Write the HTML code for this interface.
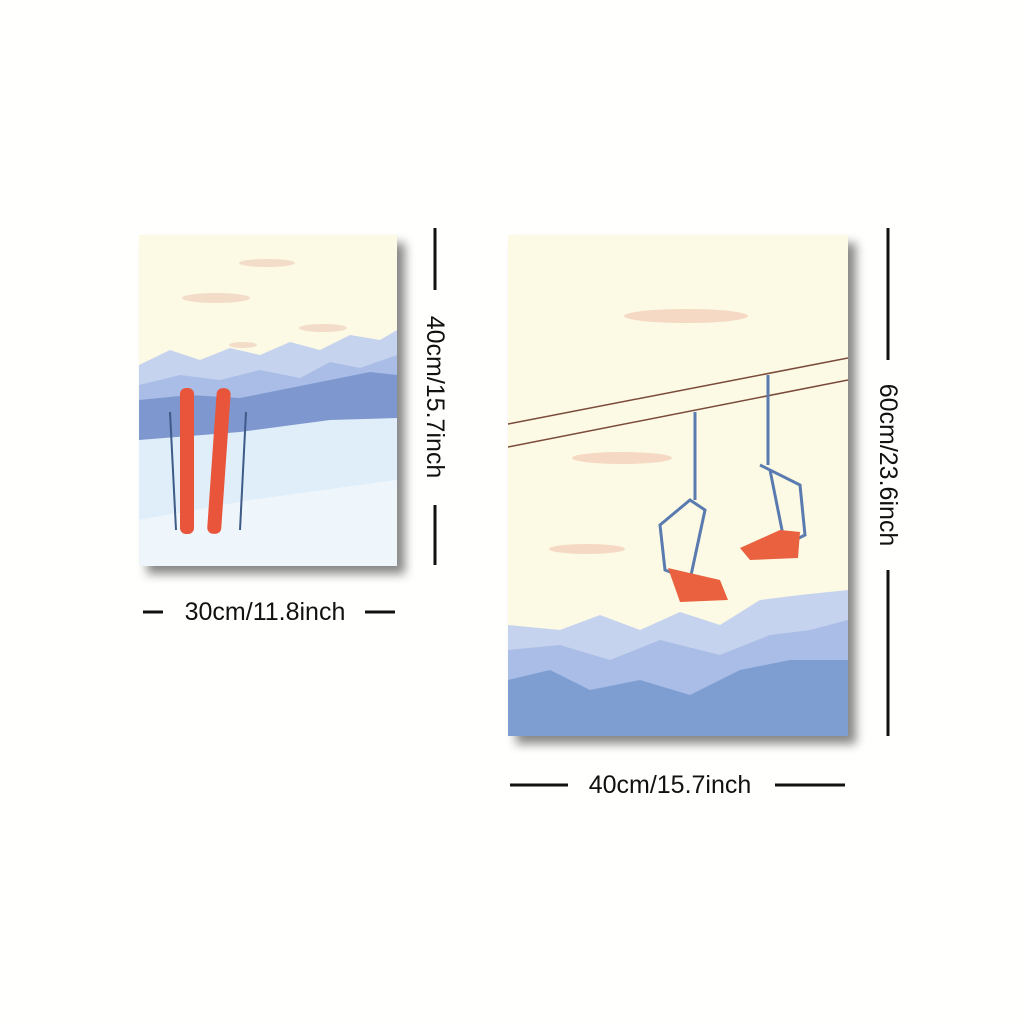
<!DOCTYPE html>
<html><head><meta charset="utf-8"><style>
html,body{margin:0;padding:0;background:#fffffd;}
svg{display:block;}
text{font-family:"Liberation Sans",sans-serif;font-size:25px;fill:#111;}
</style></head><body>
<svg width="1024" height="1024" viewBox="0 0 1024 1024">
<defs>
<filter id="sh" x="-10%" y="-10%" width="130%" height="130%"><feGaussianBlur stdDeviation="5"/></filter>
<clipPath id="c1"><rect x="139" y="235" width="258" height="331"/></clipPath>
<clipPath id="c2"><rect x="508" y="235" width="340" height="501"/></clipPath>
</defs>
<rect width="1024" height="1024" fill="#fffffd"/>
<g>
<rect x="147" y="243" width="258" height="331" fill="#555" filter="url(#sh)" opacity="0.7"/>
<g clip-path="url(#c1)">
<rect x="139" y="235" width="258" height="331" fill="#fcfae4"/>
<g fill="#f3dcc8"><ellipse cx="267" cy="263" rx="28" ry="4"/><ellipse cx="216" cy="298" rx="34" ry="5"/><ellipse cx="323" cy="328" rx="24" ry="4"/><ellipse cx="243" cy="345" rx="14" ry="3"/></g>
<polygon points="139,365 170,350 200,360 230,348 260,355 290,342 320,350 350,335 380,340 397,330 397,420 139,420" fill="#c6d3ee"/>
<polygon points="139,385 180,375 220,380 260,370 300,378 330,362 360,368 397,355 397,440 139,440" fill="#a9bde6"/>
<polygon points="139,400 190,395 240,398 280,390 330,380 370,372 397,375 397,440 139,440" fill="#7e98cf"/>
<polygon points="139,440 240,432 330,420 397,418 397,566 139,566" fill="#dfeef9"/>
<polygon points="139,520 250,500 397,480 397,566 139,566" fill="#eef6fc"/>
<rect x="180" y="388" width="14" height="146" rx="6" fill="#e9553a"/>
<rect x="212" y="388" width="14" height="146" rx="6" fill="#e9553a" transform="rotate(4 219 460)"/>
<line x1="170" y1="412" x2="176" y2="530" stroke="#3e5a86" stroke-width="2"/>
<line x1="246" y1="412" x2="240" y2="530" stroke="#3e5a86" stroke-width="2"/>
</g></g>
<g>
<rect x="516" y="243" width="340" height="501" fill="#555" filter="url(#sh)" opacity="0.7"/>
<g clip-path="url(#c2)">
<rect x="508" y="235" width="340" height="501" fill="#fcfae4"/>
<g fill="#f6d9c4"><ellipse cx="686" cy="316" rx="62" ry="7"/><ellipse cx="622" cy="458" rx="50" ry="6"/><ellipse cx="587" cy="549" rx="38" ry="5"/></g>
<line x1="508" y1="424" x2="848" y2="358" stroke="#7a4a3a" stroke-width="1.5"/>
<line x1="508" y1="447" x2="848" y2="380" stroke="#7a4a3a" stroke-width="1.5"/>
<g fill="none" stroke="#5a7bb0" stroke-width="3">
<line x1="695" y1="412" x2="695" y2="500"/><path d="M660 525 L690 500 L705 510 L690 580 L665 570 Z"/>
<line x1="768" y1="375" x2="768" y2="465"/><path d="M760 465 L800 485 L805 535 L785 545 L770 470"/>
</g>
<polygon points="668,568 720,580 728,600 680,602" fill="#e9613f"/>
<polygon points="740,548 780,530 800,532 798,558 750,560" fill="#e9613f"/>
<polygon points="508,625 560,630 600,615 640,630 680,612 720,625 760,600 800,595 848,590 848,736 508,736" fill="#c6d3ee"/>
<polygon points="508,650 560,645 610,660 660,640 720,655 770,635 810,630 848,620 848,736 508,736" fill="#a9bde6"/>
<polygon points="508,680 550,670 590,690 640,680 690,695 740,670 790,660 848,660 848,736 508,736" fill="#7e9ed2"/>
</g></g>
<g stroke="#111" stroke-width="3">
<line x1="435" y1="228" x2="435" y2="290"/><line x1="435" y1="505" x2="435" y2="565"/>
<line x1="888" y1="228" x2="888" y2="360"/><line x1="888" y1="570" x2="888" y2="736"/>
<line x1="143" y1="612" x2="163" y2="612"/><line x1="365" y1="612" x2="395" y2="612"/>
<line x1="510" y1="785" x2="568" y2="785"/><line x1="775" y1="785" x2="845" y2="785"/>
</g>
<text x="265" y="620" text-anchor="middle">30cm/11.8inch</text>
<text x="670" y="793" text-anchor="middle">40cm/15.7inch</text>
<text transform="translate(427 397) rotate(90)" text-anchor="middle">40cm/15.7inch</text>
<text transform="translate(880 465) rotate(90)" text-anchor="middle">60cm/23.6inch</text>
</svg>
</body></html>
